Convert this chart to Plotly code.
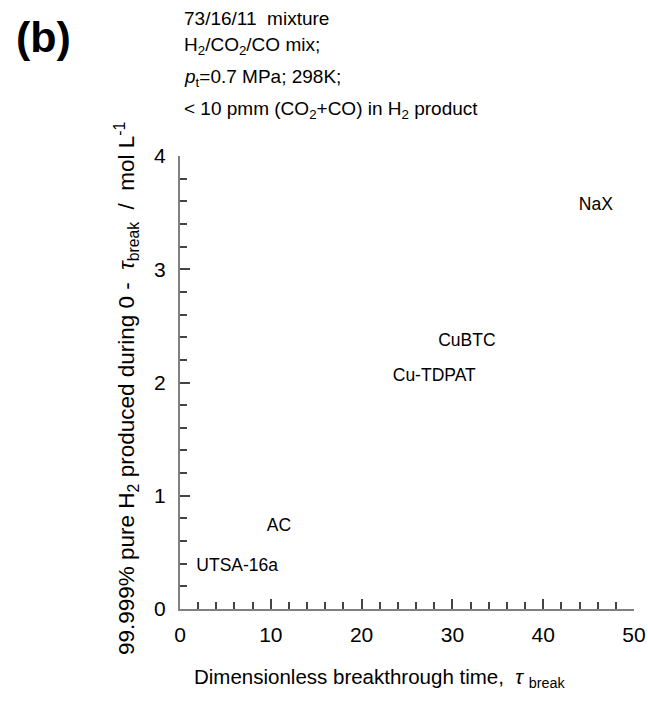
import plotly.graph_objects as go

materials = ["NaX", "CuBTC", "Cu-TDPAT", "AC", "UTSA-16a"]
tau_break = [45.8, 31.6, 28.0, 10.9, 6.3]
h2_produced = [3.56, 2.36, 2.05, 0.73, 0.37]

x_ticks = [0, 10, 20, 30, 40, 50]
y_ticks = [0, 1, 2, 3, 4]

header_lines = [
    "73/16/11  mixture",
    "H<sub>2</sub>/CO<sub>2</sub>/CO mix;",
    "<i>p</i><sub>t</sub>=0.7 MPa; 298K;",
    "&lt; 10 pmm (CO<sub>2</sub>+CO) in H<sub>2</sub> product",
]

FONT = "Liberation Sans, Arial, sans-serif"

fig = go.Figure()
fig.add_trace(go.Scatter(
    x=tau_break, y=h2_produced, mode="text", text=materials,
    textposition="middle center",
    textfont=dict(family=FONT, size=17.5, color="black"),
    showlegend=False, hoverinfo="skip",
))

axis_common = dict(
    showgrid=False, zeroline=False, showline=True, linecolor="#808080", linewidth=2,
    ticks="inside", tickcolor="#444444", tickwidth=1.5, automargin=False,
    tickfont=dict(family=FONT, size=21, color="black"),
)

fig.update_xaxes(range=[0, 50], tickvals=x_ticks, ticklen=10, ticklabelstandoff=6,
                 minor=dict(dtick=2, ticks="inside", ticklen=7, tickcolor="#444444", tickwidth=1.5),
                 **axis_common)
fig.update_yaxes(range=[0, 4], tickvals=y_ticks, ticklen=10, ticklabelstandoff=8,
                 minor=dict(dtick=0.2, ticks="inside", ticklen=7, tickcolor="#444444", tickwidth=1.5),
                 **axis_common)

annotations = [
    dict(text="<b>(b)</b>", x=14, y=37, showarrow=False,
         font=dict(family=FONT, size=43, color="black"), xanchor="left", yanchor="middle"),
    dict(text="99.999% pure H<sub>2</sub> produced during 0 -  <i>τ</i><sub>break</sub>  /  mol L<sup>-1</sup>",
         x=126, y=389, showarrow=False, textangle=-90,
         font=dict(family=FONT, size=22.5, color="black"), xanchor="center", yanchor="middle"),
    dict(text="Dimensionless breakthrough time,  <i>τ</i> <sub>break</sub>",
         x=379, y=678, showarrow=False,
         font=dict(family=FONT, size=20.5, color="black"), xanchor="center", yanchor="middle"),
]
header_y = [18, 46, 78, 110]
for txt, yy in zip(header_lines, header_y):
    annotations.append(dict(text=txt, x=182, y=yy, showarrow=False, align="left",
                            font=dict(family=FONT, size=19, color="black"),
                            xanchor="left", yanchor="middle"))

L, R, T, B = 180, 14, 156, 98
fig.update_layout(
    width=648, height=707,
    margin=dict(l=L, r=R, t=T, b=B),
    plot_bgcolor="white", paper_bgcolor="white",
    font=dict(family=FONT, color="black"),
)

# convert pixel positions for annotations to paper coordinates
pw, ph = 648 - L - R, 707 - T - B
for a in annotations:
    a["xref"] = "paper"
    a["yref"] = "paper"
    a["x"] = (a["x"] - L) / pw
    a["y"] = (707 - B - a["y"]) / ph
fig.update_layout(annotations=annotations)

fig.write_html("out.html")
